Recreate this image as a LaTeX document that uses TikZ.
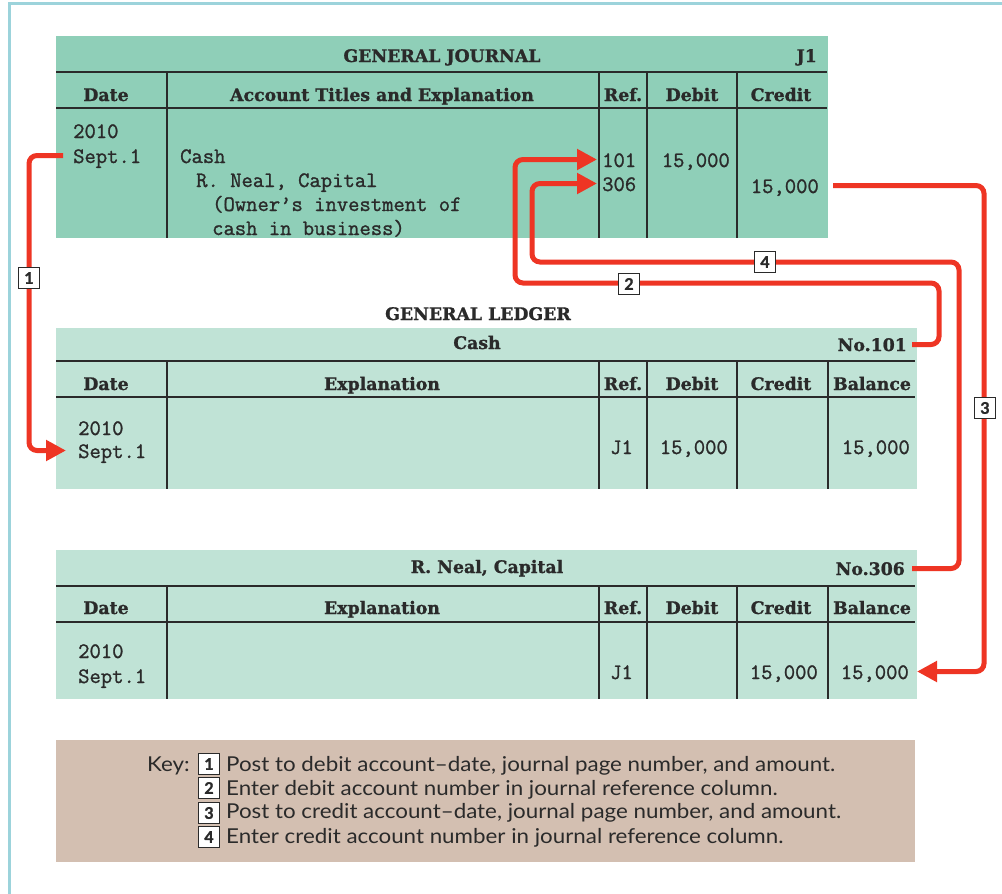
\documentclass[tikz,border=0pt]{standalone}
\usepackage{fontspec}
\usetikzlibrary{arrows.meta}
\newfontfamily\hdrfont{DejaVu Serif}[BoldFeatures={FakeBold=1.2}]
\newfontfamily\keyfont{Lato}[FakeStretch=1.09]
\newfontfamily\numfont{Lato}[BoldFeatures={FakeBold=1.5}]
\newfontfamily\bodyfont{Latin Modern Mono}[FakeBold=1.2]
\definecolor{jfill}{HTML}{8FCFB8}
\definecolor{lfill}{HTML}{C0E3D6}
\definecolor{kfill}{HTML}{D3BFB1}
\definecolor{framec}{HTML}{9CD3DB}
\definecolor{redc}{HTML}{EE3524}
\definecolor{inkc}{HTML}{2A2A2A}
\begin{document}
\begin{tikzpicture}[x=1pt,y=-1pt,
  grid/.style={draw=inkc,line width=1.3pt},
  bodyl/.style={inner sep=0pt,anchor=base west,text height=15pt,text depth=0pt,text=inkc,font=\bodyfont\fontsize{22}{22}\selectfont},
  bodyr/.style={bodyl,anchor=base east},
  hdr/.style={inner sep=0pt,anchor=base,text height=13pt,text depth=0pt,text=inkc,font=\hdrfont\bfseries\fontsize{17.3}{17.3}\selectfont},
  hdrr/.style={hdr,anchor=base east},
  post/.style={draw=redc,line width=5pt,rounded corners=8pt,-{Triangle[length=20pt,width=20pt]}},
  numbox/.style={draw=inkc,fill=white,line width=1pt,minimum width=21pt,minimum height=21pt,inner sep=0pt,text=inkc,font=\numfont\bfseries\fontsize{16}{16}\selectfont},
  keytxt/.style={inner sep=0pt,anchor=base west,text=inkc,font=\keyfont\fontsize{20.5}{20.5}\selectfont}
]
\useasboundingbox (0,0) rectangle (1002,894);
\fill[white] (0,0) rectangle (1002,894);
\draw[framec,line width=3pt] (9.5,894) -- (9.5,3.5) -- (1002,3.5);

% ---------- General journal ----------
\fill[jfill] (56,36) rectangle (828,238);
\draw[grid] (56,72) -- (827,72) (56,108) -- (827,108);
\draw[grid] (167,72) -- (167,238) (599,72) -- (599,238) (647,72) -- (647,238) (737,72) -- (737,238);
\node[hdr] (jtitle) at (442,62) {GENERAL JOURNAL};
\node[hdrr] (jpage) at (817,62) {J1};
\node[hdr] (jhdate) at (106,101) {Date};
\node[hdr] (jhacc) at (382,101) {Account Titles and Explanation};
\node[hdr] (jhref) at (623,101) {Ref.};
\node[hdr] (jhdeb) at (692,101) {Debit};
\node[hdr] (jhcr) at (781,101) {Credit};
\node[bodyl] (jyear) at (73,138) {2010};
\node[bodyl] (jsept) at (73,163) {Sept.1};
\node[bodyl] (jcash) at (180,163) {Cash};
\node[bodyl] (jneal) at (196,187) {R. Neal, Capital};
\node[bodyl] (jexp1) at (212,211) {(Owner’s investment of};
\node[bodyl] (jexp2) at (212,235) {cash in business)};
\node[bodyl] (r101) at (602,167) {101};
\node[bodyl] (r306) at (602,191) {306};
\node[bodyr] (jdeb) at (730,167) {15,000};
\node[bodyr] (jcr) at (819,193) {15,000};

% ---------- General ledger ----------
\node[hdr] (ltitle) at (478,320) {GENERAL LEDGER};

% Cash account
\fill[lfill] (56,328) rectangle (917,489);
\draw[grid] (56,361) -- (915,361) (56,397) -- (915,397);
\draw[grid] (167,361) -- (167,489) (599,361) -- (599,489) (647,361) -- (647,489) (737,361) -- (737,489) (828,361) -- (828,489);
\node[hdr] (ctitle) at (477,349) {Cash};
\node[hdrr] (no101) at (907,351) {No.101};
\node[hdr] (chdate) at (106,390) {Date};
\node[hdr] (chexp) at (382,390) {Explanation};
\node[hdr] (chref) at (623,390) {Ref.};
\node[hdr] (chdeb) at (692,390) {Debit};
\node[hdr] (chcr) at (781,390) {Credit};
\node[hdr] (chbal) at (872,390) {Balance};
\node[bodyl] (cyear) at (78,435) {2010};
\node[bodyl] (csept) at (78,458) {Sept.1};
\node[bodyr] (cref) at (633,454) {J1};
\node[bodyr] (cdeb) at (728,454) {15,000};
\node[bodyr] (cbal) at (910,454) {15,000};

% R. Neal, Capital account
\fill[lfill] (56,550) rectangle (917,699);
\draw[grid] (56,586) -- (915,586) (56,622) -- (915,622);
\draw[grid] (167,586) -- (167,699) (599,586) -- (599,699) (647,586) -- (647,699) (737,586) -- (737,699) (828,586) -- (828,699);
\node[hdr] (ktitle) at (487,573) {R. Neal, Capital};
\node[hdrr] (no306) at (905,575) {No.306};
\node[hdr] (khdate) at (106,614) {Date};
\node[hdr] (khexp) at (382,614) {Explanation};
\node[hdr] (khref) at (623,614) {Ref.};
\node[hdr] (khdeb) at (692,614) {Debit};
\node[hdr] (khcr) at (781,614) {Credit};
\node[hdr] (khbal) at (872,614) {Balance};
\node[bodyl] (kyear) at (78,658) {2010};
\node[bodyl] (ksept) at (78,683) {Sept.1};
\node[bodyr] (kref) at (633,679) {J1};
\node[bodyr] (kcr) at (818,679) {15,000};
\node[bodyr] (kbal) at (909,679) {15,000};

% ---------- Posting arrows ----------
\draw[post] ([xshift=-10pt]jsept.west) -| (29,300) |- ([xshift=-12pt]csept.west);
\draw[post] ([xshift=5pt]no101.east) -| (939,283) -- (515,283) |- ([xshift=-5pt]r101.west);
\draw[post] ([xshift=14pt]jcr.east) -| (984,400) |- ([xshift=8pt]kbal.east);
\draw[post] ([xshift=7pt]no306.east) -| (959,262) -- (532,262) |- ([xshift=-5pt]r306.west);
\node[numbox] (s1) at (29,278) {1};
\node[numbox] (s2) at (629,284) {2};
\node[numbox] (s3) at (985,408) {3};
\node[numbox] (s4) at (765,262) {4};

% ---------- Key ----------
\fill[kfill] (56,740) rectangle (915,862);
\node[keytxt] (keyw) at (147,771) {Key:};
\node[numbox] (k1) at (209,764) {1};
\node[numbox] (k2) at (209,788) {2};
\node[numbox] (k3) at (209,813) {3};
\node[numbox] (k4) at (209,837) {4};
\node[keytxt] (kt1) at (226,771) {Post to debit account–date, journal page number, and amount.};
\node[keytxt] (kt2) at (226,795) {Enter debit account number in journal reference column.};
\node[keytxt] (kt3) at (226,818) {Post to credit account–date, journal page number, and amount.};
\node[keytxt] (kt4) at (226,843) {Enter credit account number in journal reference column.};
\end{tikzpicture}
\end{document}
